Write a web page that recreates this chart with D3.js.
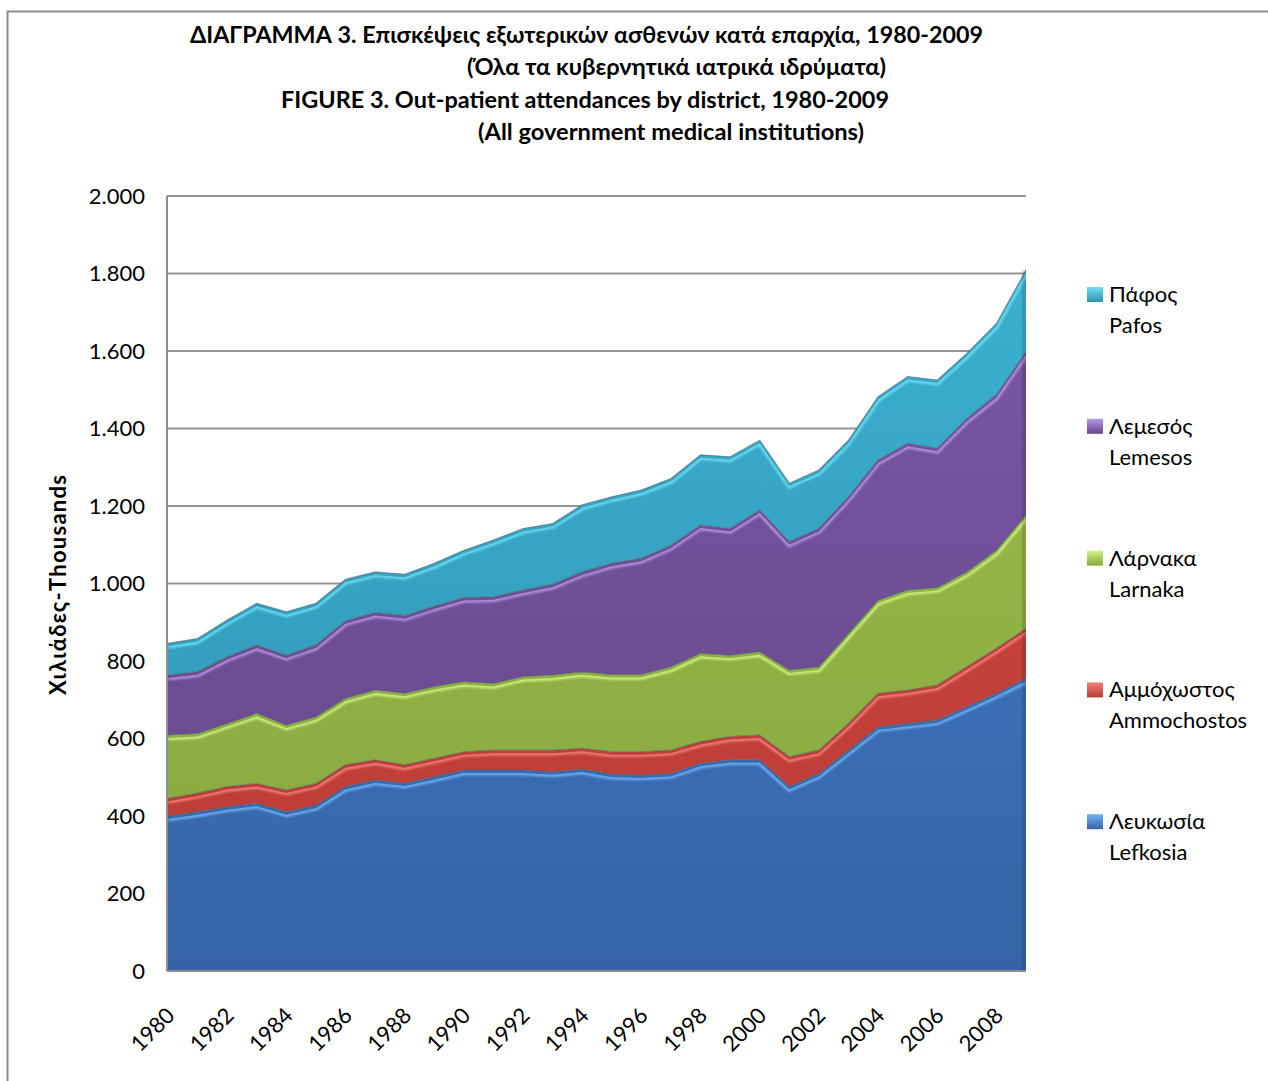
<!DOCTYPE html>
<html><head><meta charset="utf-8">
<script src="https://cdn.jsdelivr.net/npm/d3@7"></script>
<style>html,body{margin:0;background:#fff;overflow:hidden}svg{display:block}text{font-family:Lato,"Open Sans",sans-serif;fill:#000}</style>
</head><body><svg id="c" width="1268" height="1081"></svg>
<script>
const years = [1980,1981,1982,1983,1984,1985,1986,1987,1988,1989,1990,1991,1992,1993,1994,1995,1996,1997,1998,1999,2000,2001,2002,2003,2004,2005,2006,2007,2008,2009];
const lefkosia    = [400,411,424,433,411,428,476,493,485,501,519,519,519,514,521,508,506,510,536,545,545,476,510,570,630,639,648,682,717,755];
const ammochostos = [46,48,52,51,56,56,56,52,47,48,47,51,51,56,54,58,60,60,56,60,64,77,60,69,87,86,90,103,116,129];
const larnaka      = [163,154,163,181,168,172,172,180,185,185,181,172,190,194,197,199,199,215,228,210,215,224,215,232,240,258,252,245,253,293];
const lemesos      = [155,159,172,176,180,185,200,200,200,208,217,224,223,234,258,287,300,314,331,327,366,331,357,353,362,379,359,396,401,421];
const pafos        = [82,86,95,108,112,108,107,105,107,110,122,146,159,157,173,172,176,172,181,185,180,151,151,146,163,172,176,168,184,211];
const seriesKeys   = ["lefkosia","ammochostos","larnaka","lemesos","pafos"];
const seriesGreek  = ["Λευκωσία","Αμμόχωστος","Λάρνακα","Λεμεσός","Πάφος"];
const seriesLatin  = ["Lefkosia","Ammochostos","Larnaka","Lemesos","Pafos"];
const xTickYears   = [1980,1982,1984,1986,1988,1990,1992,1994,1996,1998,2000,2002,2004,2006,2008];
const yTicks       = [0,200,400,600,800,1000,1200,1400,1600,1800,2000];
const yTickLabels  = ["0","200","400","600","800","1.000","1.200","1.400","1.600","1.800","2.000"];
const titleLines   = ["ΔΙΑΓΡΑΜΜΑ 3.  Επισκέψεις εξωτερικών ασθενών κατά επαρχία, 1980-2009",
                      "(Όλα τα κυβερνητικά  ιατρικά ιδρύματα)",
                      "FIGURE  3.  Out-patient attendances by district, 1980-2009",
                      "(All government medical institutions)"];
const yAxisTitle = "Χιλιάδες-Thousands";

const colors = {
  lefkosia:    {base:"#3b74bf", top:"#4683cf", bot:"#3563a6", hi:"#72b4f6"},
  ammochostos: {base:"#cf433e", top:"#d94a44", bot:"#b83a35", hi:"#f2847c"},
  larnaka:     {base:"#93b646", top:"#9cc14c", bot:"#86a63e", hi:"#d2f584"},
  lemesos:     {base:"#6f4f98", top:"#7a59a6", bot:"#654789", hi:"#b896e6"},
  pafos:       {base:"#34a1c1", top:"#3cb2d3", bot:"#2f93b1", hi:"#6ee0f3"}
};

const rows = years.map((y,i)=>({year:y,lefkosia:lefkosia[i],ammochostos:ammochostos[i],larnaka:larnaka[i],lemesos:lemesos[i],pafos:pafos[i]}));

const svg = d3.select("#c");
const L=167, R=1026, T=196, B=971;
const x = d3.scaleLinear().domain([1980,2009]).range([L+1,R]);
const y = d3.scaleLinear().domain([0,2000]).range([B,T]);

// outer chart border (right and bottom edges fall outside the picture)
svg.append("path").attr("d","M7.5,1081 V11.5 H1268").attr("fill","none")
  .attr("stroke","#8c8c8c").attr("stroke-width",2);

// title
const tpos = [[190,43,793],[467,75,419],[281,108,608],[478,140,386]];
titleLines.forEach((t,i)=>{
  svg.append("text").attr("x",tpos[i][0]).attr("y",tpos[i][1]).attr("textLength",tpos[i][2])
    .attr("lengthAdjust","spacingAndGlyphs")
    .attr("font-size",22).attr("font-weight","bold").text(t);
});

// gridlines
svg.append("g").selectAll("line").data(yTicks.filter(d=>d>0)).join("line")
  .attr("x1",L).attr("x2",R).attr("y1",d=>y(d)).attr("y2",d=>y(d))
  .attr("stroke","#959595").attr("stroke-width",2);

// gradients
const defs = svg.append("defs");
seriesKeys.forEach(k=>{
  const g = defs.append("linearGradient").attr("id","g-"+k).attr("gradientUnits","userSpaceOnUse")
    .attr("x1",0).attr("y1",T).attr("x2",0).attr("y2",B);
  g.append("stop").attr("offset","0%").attr("stop-color",colors[k].top);
  g.append("stop").attr("offset","100%").attr("stop-color",colors[k].bot);
  const lg = defs.append("linearGradient").attr("id","lg-"+k).attr("x1",0).attr("y1",0).attr("x2",0).attr("y2",1);
  lg.append("stop").attr("offset","0%").attr("stop-color",colors[k].hi);
  lg.append("stop").attr("offset","100%").attr("stop-color",colors[k].bot);
});
const blur = defs.append("filter").attr("id","soft").attr("x","-5%").attr("y","-5%").attr("width","110%").attr("height","110%");
blur.append("feGaussianBlur").attr("stdDeviation",1.2);

const stack = d3.stack().keys(seriesKeys);
const stacked = stack(rows);
const area = d3.area().x(d=>x(d.data.year)).y0(d=>y(d[0])).y1(d=>y(d[1]));
const topLine = d3.line().x(d=>x(d.data.year)).y(d=>y(d[1]));

const gA = svg.append("g");
stacked.forEach(s=>{
  const k = s.key;
  gA.append("path").datum(s).attr("d",area).attr("fill","url(#g-"+k+")");
  const clipId = "clip-"+k;
  defs.append("clipPath").attr("id",clipId).append("path").datum(s).attr("d",area);
  gA.append("path").datum(s).attr("d",topLine).attr("fill","none")
    .attr("stroke",colors[k].hi).attr("stroke-width",5).attr("opacity",0.85)
    .attr("transform","translate(0,3)").attr("clip-path","url(#"+clipId+")").attr("filter","url(#soft)");
});
stacked.forEach(s=>{
  gA.append("path").datum(s).attr("d",topLine).attr("fill","none")
    .attr("stroke","#4a5a5a").attr("stroke-width",1.1).attr("opacity",0.55);
});
// right side shading
gA.append("rect").attr("x",R-4).attr("y",y(d3.max(stacked[4],d=>d[1]))).attr("width",4)
  .attr("height",B-y(d3.max(stacked[4],d=>d[1]))).attr("fill","#000").attr("opacity",0.12);

// axes lines
svg.append("line").attr("x1",L).attr("x2",L).attr("y1",T).attr("y2",B).attr("stroke","#8c8c8c").attr("stroke-width",2);
svg.append("line").attr("x1",L).attr("x2",R).attr("y1",B).attr("y2",B).attr("stroke","#8c8c8c").attr("stroke-width",2);
svg.append("line").attr("x1",L).attr("x2",R).attr("y1",T).attr("y2",T).attr("stroke","#959595").attr("stroke-width",2);

// y tick labels
svg.append("g").selectAll("text").data(yTicks).join("text")
  .attr("x",145).attr("y",d=>y(d)).attr("dy","0.36em").attr("text-anchor","end")
  .attr("font-size",22).text((d,i)=>yTickLabels[i]);

// x tick labels
svg.append("g").selectAll("text").data(xTickYears).join("text")
  .attr("transform",d=>`translate(${x(d)+8},1017) rotate(-45)`).attr("text-anchor","end")
  .attr("font-size",22).text(d=>String(d));

// y axis title
svg.append("text").attr("transform","translate(66,585) rotate(-90)").attr("text-anchor","middle")
  .attr("font-size",22).attr("font-weight","bold").attr("textLength",220).text(yAxisTitle);

// legend (top = last series)
const legOrder = [4,3,2,1,0];
legOrder.forEach((si,j)=>{
  const k = seriesKeys[si];
  const by = 302 + j*131.8;
  svg.append("rect").attr("x",1087).attr("y",by-15).attr("width",16).attr("height",15)
    .attr("fill","url(#lg-"+k+")");
  svg.append("text").attr("x",1109).attr("y",by).attr("font-size",22).text(seriesGreek[si]);
  svg.append("text").attr("x",1109).attr("y",by+31).attr("font-size",22).text(seriesLatin[si]);
});
</script></body></html>
